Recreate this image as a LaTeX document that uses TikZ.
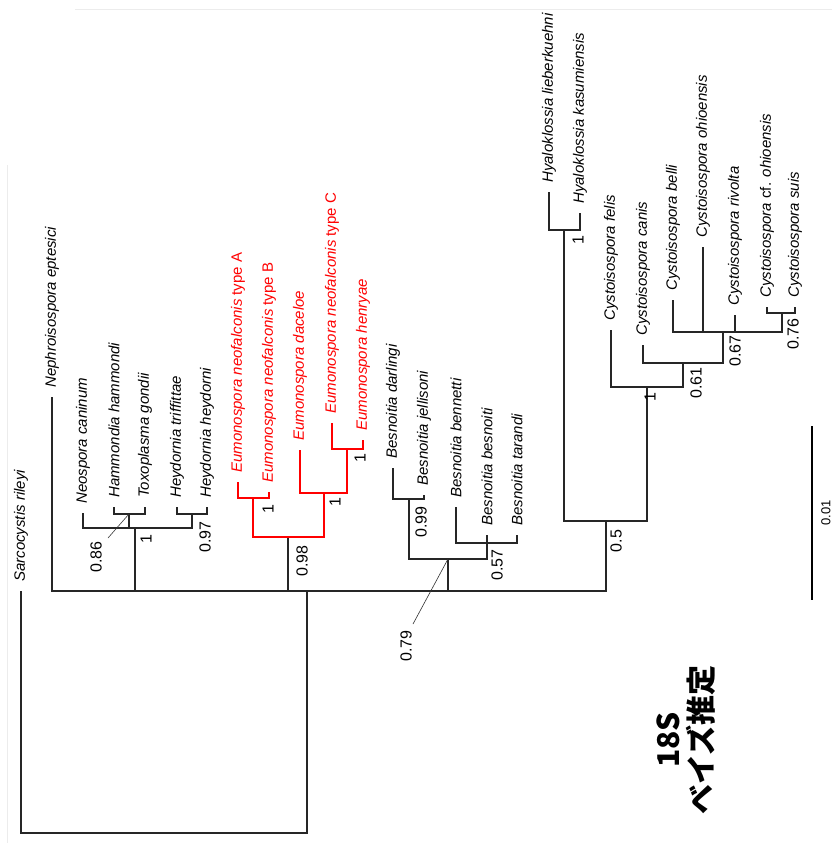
\documentclass[tikz,border=0pt]{standalone}
\usepackage{fontspec}
\setmainfont{Liberation Sans}
\newfontfamily\jpfont{Noto Sans CJK JP}
\begin{document}
\begin{tikzpicture}[x=1pt, y=-1pt,
    br/.style={line width=1.5pt, draw=black!85},
    eum/.style={line width=1.5pt, draw=red},
    tip/.style={anchor=west, rotate=90, inner sep=0pt, font=\fontsize{15}{18}\selectfont\itshape},
    supp/.style={rotate=90, inner sep=0pt, font=\fontsize{16}{19}\selectfont},
    lead/.style={line width=0.6pt, draw=black!80}]
    \useasboundingbox (0,0) rectangle (832,843);
    % faint frame left from the source page
    \draw[gray!15, line width=1pt] (75,10) -- (832,10);
    \draw[gray!15, line width=1pt] (7,165) -- (7,843);

    % backbone
    \coordinate (root) at (164,833);
    \coordinate (n1) at (307,591);
    \coordinate (tSar) at (21,591);
    \coordinate (tNep) at (52,397);
    % Toxoplasma group
    \coordinate (nTox) at (135,528);
    \coordinate (nHT) at (129,514);
    \coordinate (nHey) at (192,514);
    \coordinate (tNeo) at (83,513);
    \coordinate (tHam) at (114,507);
    \coordinate (tTox) at (145,507);
    \coordinate (tHtr) at (177,507);
    \coordinate (tHhe) at (207,507);
    % Eumonospora
    \coordinate (nEum) at (288,537);
    \coordinate (nAB) at (253,498);
    \coordinate (nCD) at (324,493);
    \coordinate (nCH) at (347,449);
    \coordinate (tEA) at (238,482);
    \coordinate (tEB) at (269,492);
    \coordinate (tEd) at (300,450);
    \coordinate (tEC) at (332,423);
    \coordinate (tEh) at (363,440);
    % Besnoitia
    \coordinate (nBes) at (448,559);
    \coordinate (nBdj) at (409,499);
    \coordinate (nBbt) at (487,543);
    \coordinate (tBda) at (393,468);
    \coordinate (tBje) at (424,495);
    \coordinate (tBbn) at (456,507);
    \coordinate (tBbe) at (487,535);
    \coordinate (tBta) at (517,535);
    % Hyaloklossia + Cystoisospora
    \coordinate (nHC) at (606,521);
    \coordinate (nHya) at (564,230);
    \coordinate (nCys) at (647,387);
    \coordinate (nC2) at (683,363);
    \coordinate (nC3) at (723,332);
    \coordinate (nC4) at (782,313);
    \coordinate (tHli) at (549,192);
    \coordinate (tHka) at (580,213);
    \coordinate (tCfe) at (611,330);
    \coordinate (tCca) at (643,345);
    \coordinate (tCbe) at (673,300);
    \coordinate (tCoh) at (703,247);
    \coordinate (tCri) at (735,315);
    \coordinate (tCcf) at (767,307);
    \coordinate (tCsu) at (795,307);

    % branches
    \foreach \p/\c in {root/tSar, root/n1, n1/tNep, n1/nTox, n1/nEum, n1/nBes, n1/nHC,
        nTox/tNeo, nTox/nHT, nTox/nHey, nHT/tHam, nHT/tTox, nHey/tHtr, nHey/tHhe,
        nBes/nBdj, nBes/nBbt, nBdj/tBda, nBdj/tBje, nBbt/tBbn, nBbt/tBbe, nBbt/tBta,
        nHC/nHya, nHC/nCys, nHya/tHli, nHya/tHka, nCys/tCfe, nCys/nC2, nC2/tCca, nC2/nC3,
        nC3/tCbe, nC3/tCoh, nC3/tCri, nC3/nC4, nC4/tCcf, nC4/tCsu}
        \draw[br] (\p) -| (\c);
    \foreach \p/\c in {nEum/nAB, nEum/nCD, nAB/tEA, nAB/tEB, nCD/tEd, nCD/nCH, nCH/tEC, nCH/tEh}
        \draw[eum] (\p) -| (\c);

    % taxa
    \node[tip] (lSar) at ([yshift=9pt]tSar) {Sarcocystis rileyi};
    \node[tip] (lNep) at ([yshift=9pt]tNep) {Nephroisospora eptesici};
    \node[tip] (lNeo) at ([yshift=9pt]tNeo) {Neospora caninum};
    \node[tip] (lHam) at ([yshift=9pt]tHam) {Hammondia hammondi};
    \node[tip] (lTox) at ([yshift=9pt]tTox) {Toxoplasma gondii};
    \node[tip] (lHtr) at ([yshift=9pt]tHtr) {Heydornia triffittae};
    \node[tip] (lHhe) at ([yshift=9pt]tHhe) {Heydornia heydorni};
    \node[tip, text=red] (lEA) at ([yshift=9pt]tEA) {Eumonospora neofalconis \upshape type A};
    \node[tip, text=red] (lEB) at ([yshift=9pt]tEB) {Eumonospora neofalconis \upshape type B};
    \node[tip, text=red] (lEd) at ([yshift=9pt]tEd) {Eumonospora daceloe};
    \node[tip, text=red] (lEC) at ([yshift=9pt]tEC) {Eumonospora neofalconis \upshape type C};
    \node[tip, text=red] (lEh) at ([yshift=9pt]tEh) {Eumonospora henryae};
    \node[tip] (lBda) at ([yshift=9pt]tBda) {Besnoitia darlingi};
    \node[tip] (lBje) at ([yshift=9pt]tBje) {Besnoitia jellisoni};
    \node[tip] (lBbn) at ([yshift=9pt]tBbn) {Besnoitia bennetti};
    \node[tip] (lBbe) at ([yshift=9pt]tBbe) {Besnoitia besnoiti};
    \node[tip] (lBta) at ([yshift=9pt]tBta) {Besnoitia tarandi};
    \node[tip] (lHli) at ([yshift=9pt]tHli) {Hyaloklossia lieberkuehni};
    \node[tip] (lHka) at ([yshift=9pt]tHka) {Hyaloklossia kasumiensis};
    \node[tip] (lCfe) at ([yshift=9pt]tCfe) {Cystoisospora felis};
    \node[tip] (lCca) at ([yshift=9pt]tCca) {Cystoisospora canis};
    \node[tip] (lCbe) at ([yshift=9pt]tCbe) {Cystoisospora belli};
    \node[tip] (lCoh) at ([yshift=9pt]tCoh) {Cystoisospora ohioensis};
    \node[tip] (lCri) at ([yshift=9pt]tCri) {Cystoisospora rivolta};
    \node[tip] (lCcf) at ([yshift=9pt]tCcf) {Cystoisospora {\upshape cf.} ohioensis};
    \node[tip] (lCsu) at ([yshift=9pt]tCsu) {Cystoisospora suis};

    % posterior probabilities
    \node[supp] (s086) at (96,557) {0.86};
    \coordinate (e086) at (108,538);
    \draw[lead] (nHT) -- (e086);
    \node[supp] (sTox) at (146,539) {1};
    \node[supp] (s097) at (205,537) {0.97};
    \node[supp] (s098) at (302,561) {0.98};
    \node[supp] (sAB) at (268,509) {1};
    \node[supp] (sCD) at (335,502) {1};
    \node[supp] (sCH) at (360,458) {1};
    \node[supp] (s079) at (406,646) {0.79};
    \coordinate (e079) at (413,624);
    \draw[lead] (nBes) -- (e079);
    \node[supp] (s099) at (421,522) {0.99};
    \node[supp] (s057) at (497,565) {0.57};
    \node[supp] (s05) at (616,541) {0.5};
    \node[supp] (sHya) at (578,240) {1};
    \node[supp] (sCys) at (650,397) {1};
    \node[supp] (s061) at (696,383) {0.61};
    \node[supp] (s067) at (735,351) {0.67};
    \node[supp] (s076) at (793,334) {0.76};

    % scale bar
    \coordinate (sb1) at (812,426);
    \coordinate (sb2) at (812,600);
    \draw[line width=1.6pt] (sb1) -- (sb2);
    \node[supp, font=\fontsize{13}{15}\selectfont] (sbl) at (826,513) {0.01};

    % title
    \node[rotate=90, align=center, font=\jpfont\bfseries\fontsize{30}{33}\selectfont] (ttl) at (686,740) {18S\\ベイズ推定};
\end{tikzpicture}
\end{document}
